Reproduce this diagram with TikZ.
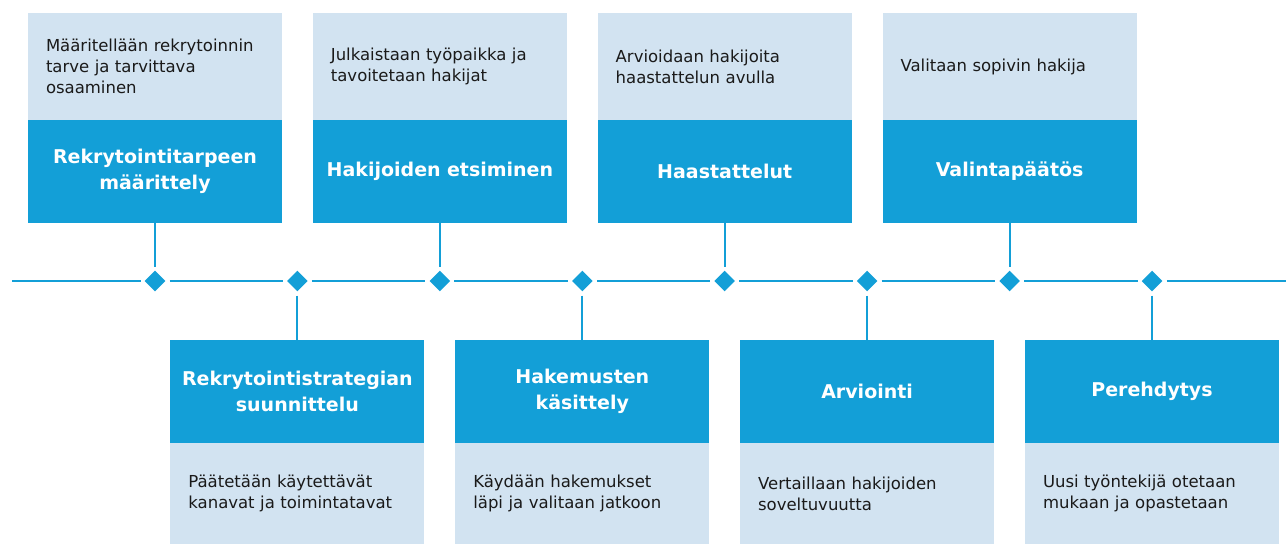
\documentclass[tikz,border=0pt]{standalone}
\usepackage{fontspec}
\setmainfont{DejaVu Sans}
\usepackage{tikz}
\usetikzlibrary{shapes.geometric}
\usetikzlibrary{positioning}
\definecolor{rblue}{HTML}{139FD7}
\definecolor{rlight}{HTML}{D2E3F1}
\definecolor{rtext}{HTML}{1A1A1A}
\tikzset{info node/.style={rectangle,fill=rlight,text=rtext,text width=218pt,inner xsep=18pt,inner ysep=0pt,outer sep=0pt,align=left,font=\fontsize{16.5}{21}\selectfont},
	phase node/.style={rectangle,fill=rblue,text=white,text width=238pt,inner xsep=8pt,inner ysep=0pt,outer sep=0pt,minimum height=103pt,align=center,font=\fontsize{19}{25.5}\selectfont\bfseries},
	dot node/.style={diamond,fill=rblue,minimum size=23pt,inner sep=0pt,outer sep=3pt},
	time line/.style={draw=rblue,line width=2.5pt},
	link line/.style={draw=rblue,line width=2pt},
}

\begin{document}
\begin{tikzpicture}[x=1pt,y=-1pt]
		\useasboundingbox (0,0) rectangle (1286,544);
		% ylarivi
		\node[info node,minimum height=107pt] (i1) at (155,66.5) {Määritellään rekrytoinnin\\tarve ja tarvittava\\osaaminen};
		\node[phase node] (p1) [below = 0pt of i1] {Rekrytointitarpeen\\määrittely};
		\node[info node,minimum height=107pt] (i3) at (439.9,66.5) {Julkaistaan työpaikka ja\\tavoitetaan hakijat};
		\node[phase node] (p3) [below = 0pt of i3] {Hakijoiden etsiminen};
		\node[info node,minimum height=107pt] (i5) at (724.7,66.5) {Arvioidaan hakijoita\\haastattelun avulla};
		\node[phase node] (p5) [below = 0pt of i5] {Haastattelut};
		\node[info node,minimum height=107pt] (i7) at (1009.6,66.5) {Valitaan sopivin hakija};
		\node[phase node] (p7) [below = 0pt of i7] {Valintapäätös};
		%% alarivi
		\node[phase node] (p2) at (297.4,391.5) {Rekrytointistrategian\\suunnittelu};
		\node[info node,minimum height=101pt] (i2) [below = 0pt of p2] {Päätetään käytettävät\\kanavat ja toimintatavat};
		\node[phase node] (p4) at (582.3,391.5) {Hakemusten\\käsittely};
		\node[info node,minimum height=101pt] (i4) [below = 0pt of p4] {Käydään hakemukset\\läpi ja valitaan jatkoon};
		\node[phase node] (p6) at (867.1,391.5) {Arviointi};
		\node[info node,minimum height=101pt] (i6) [below = 0pt of p6] {Vertaillaan hakijoiden\\soveltuvuutta};
		\node[phase node] (p8) at (1152,391.5) {Perehdytys};
		\node[info node,minimum height=101pt] (i8) [below = 0pt of p8] {Uusi työntekijä otetaan\\mukaan ja opastetaan};
		%% aikajana
		\coordinate (t0) at (12,281);
		\coordinate (t9) at (1286,281);
		\node[dot node] (m1) at (155,281) {};
		\node[dot node] (m2) at (297.4,281) {};
		\node[dot node] (m3) at (439.9,281) {};
		\node[dot node] (m4) at (582.3,281) {};
		\node[dot node] (m5) at (724.7,281) {};
		\node[dot node] (m6) at (867.1,281) {};
		\node[dot node] (m7) at (1009.6,281) {};
		\node[dot node] (m8) at (1152,281) {};
		
		\path[time line]
		(t0) -- (m1) -- (m2) -- (m3) -- (m4) -- (m5) -- (m6) -- (m7) -- (m8) -- (t9);
		
		\path[link line]
		(p1) edge (m1)
		(m2) edge (p2)
		(p3) edge (m3)
		(m4) edge (p4)
		(p5) edge (m5)
		(m6) edge (p6)
		(p7) edge (m7)
		(m8) edge (p8)
		;
	\end{tikzpicture}
\end{document}
